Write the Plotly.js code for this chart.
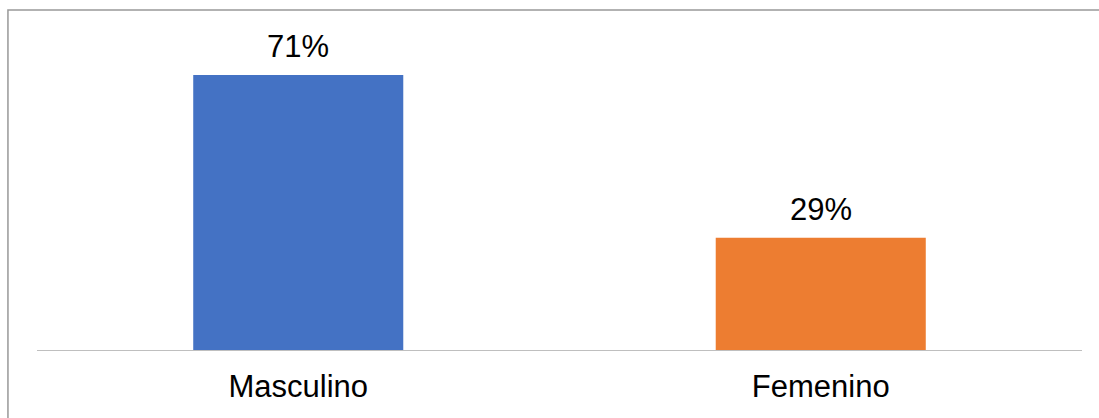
<!DOCTYPE html>
<html>
<head>
<meta charset="utf-8">
<script src="https://cdn.plot.ly/plotly-3.0.1.min.js"></script>
<style>
  html, body { margin: 0; padding: 0; background: #ffffff; }
  #chart { width: 1099px; height: 418px; }
</style>
</head>
<body>
<div id="chart"></div>
<script>
// Distribution by sex (percent)
const categories = ["Masculino", "Femenino"];
const percentages = [71, 29];
const barColors = ["#4472C4", "#ED7D31"];

const font = '"Liberation Sans", Arial, sans-serif';

const trace = {
  type: "bar",
  x: categories,
  y: percentages,
  marker: { color: barColors },
  hoverinfo: "x+y",
  showlegend: false
};

// Value labels above each bar
const labels = categories.map((c, i) => ({
  x: c,
  y: percentages[i],
  xref: "x",
  yref: "y",
  text: percentages[i] + "%",
  showarrow: false,
  yanchor: "bottom",
  yshift: 9,
  font: { family: font, size: 31, color: "#000000" }
}));

const layout = {
  width: 1099,
  height: 418,
  margin: { l: 37, r: 17, t: 40, b: 68 },
  paper_bgcolor: "#ffffff",
  plot_bgcolor: "#ffffff",
  bargap: 0.598,
  font: { family: font, color: "#000000" },
  xaxis: {
    showline: true,
    linecolor: "#bfbfbf",
    linewidth: 1,
    ticks: "",
    showgrid: false,
    zeroline: false,
    tickfont: { family: font, size: 31, color: "#000000" },
    ticklabelstandoff: 9
  },
  yaxis: {
    range: [0, 80],
    visible: false,
    showgrid: false,
    zeroline: false
  },
  annotations: labels,
  shapes: [{
    type: "rect",
    xref: "paper",
    yref: "paper",
    x0: -0.0278,
    x1: 1.2,
    y0: -0.5,
    y1: 1.0968,
    line: { color: "#999999", width: 1.5 },
    fillcolor: "rgba(0,0,0,0)",
    layer: "below"
  }]
};

Plotly.newPlot("chart", [trace], layout, { displayModeBar: false, staticPlot: true });
</script>
</body>
</html>
